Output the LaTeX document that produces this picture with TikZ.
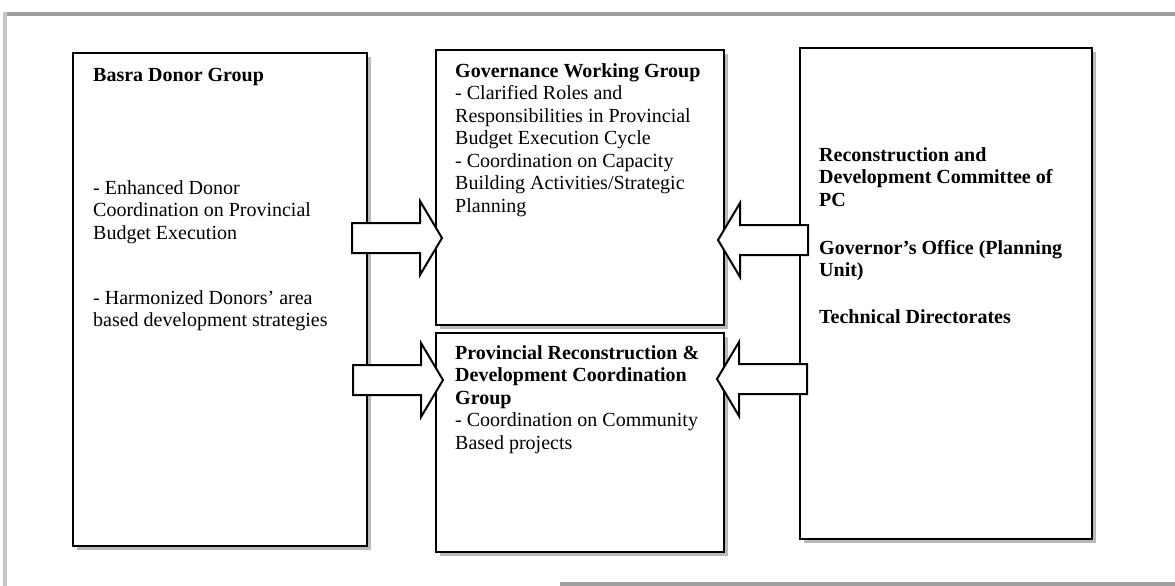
\documentclass[tikz,border=0pt]{standalone}
\usepackage{fontspec}
\setmainfont{Liberation Serif}
\usetikzlibrary{shadows}

\tikzset{
  panel/.style={draw, line width=2pt, fill=white, anchor=north west, outer sep=0pt,
    general shadow={fill=gray!55, shadow xshift=4pt, shadow yshift=-4pt}},
  txt/.style={anchor=north west, inner sep=0pt, align=left,
    font=\fontsize{20}{22.5}\selectfont, execute at begin node=\strut},
  blockarrow/.style={draw, line width=2pt, fill=white, line join=miter},
  frame/.style={line width=3.5pt, gray!75}
}

\begin{document}
\begin{tikzpicture}[x=1pt,y=-1pt]
\useasboundingbox[fill=white] (0,0) rectangle (1175,586);

% page frame
\draw[frame] (3,14) -- (1175,14);
\draw[frame, gray!45] (5,12) -- (5,586);
\draw[frame] (560,584) -- (1175,584);

% the four boxes
\node[panel, minimum width=294pt, minimum height=493pt] (donors) at (73,53) {};
\node[panel, minimum width=288pt, minimum height=275pt] (govwg) at (436,50) {};
\node[panel, minimum width=288pt, minimum height=219pt] (prdc) at (436,333) {};
\node[panel, minimum width=292pt, minimum height=491pt] (locals) at (800,48) {};

% block arrows: tip x / tip y / direction
\foreach \tx/\ty/\d in {442/238/1, 443/380/1, 718/240/-1, 717/379/-1}
  \draw[blockarrow] ({\tx-90*(\d)},{\ty-15}) -- ({\tx-22*(\d)},{\ty-15})
    -- ({\tx-22*(\d)},{\ty-37}) -- (\tx,\ty) -- ({\tx-22*(\d)},{\ty+37})
    -- ({\tx-22*(\d)},{\ty+15}) -- ({\tx-90*(\d)},{\ty+15}) -- cycle;

% left box
\node[txt] (donorhead) at (93,66) {\textbf{Basra Donor Group}};
\node[txt] (donorone) at (93,180) {- Enhanced Donor\\Coordination on Provincial\\Budget Execution};
\node[txt] (donortwo) at (93,290) {- Harmonized Donors’ area\\based development strategies};

% middle boxes
\node[txt] (govwgtext) at (455,63) {\textbf{Governance Working Group}\\- Clarified Roles and\\Responsibilities in Provincial\\Budget Execution Cycle\\- Coordination on Capacity\\Building Activities/Strategic\\Planning};
\node[txt] (prdctext) at (455,345) {\textbf{Provincial Reconstruction \&}\\\textbf{Development Coordination}\\\textbf{Group}\\- Coordination on Community\\Based projects};

% right box
\node[txt, font=\fontsize{20}{22.5}\selectfont\bfseries] (localsone) at (819,147) {Reconstruction and\\Development Committee of\\PC};
\node[txt, font=\fontsize{20}{22.5}\selectfont\bfseries] (localstwo) at (819,240) {Governor’s Office (Planning\\Unit)};
\node[txt, font=\fontsize{20}{22.5}\selectfont\bfseries] (localsthree) at (819,308) {Technical Directorates};
\end{tikzpicture}
\end{document}
